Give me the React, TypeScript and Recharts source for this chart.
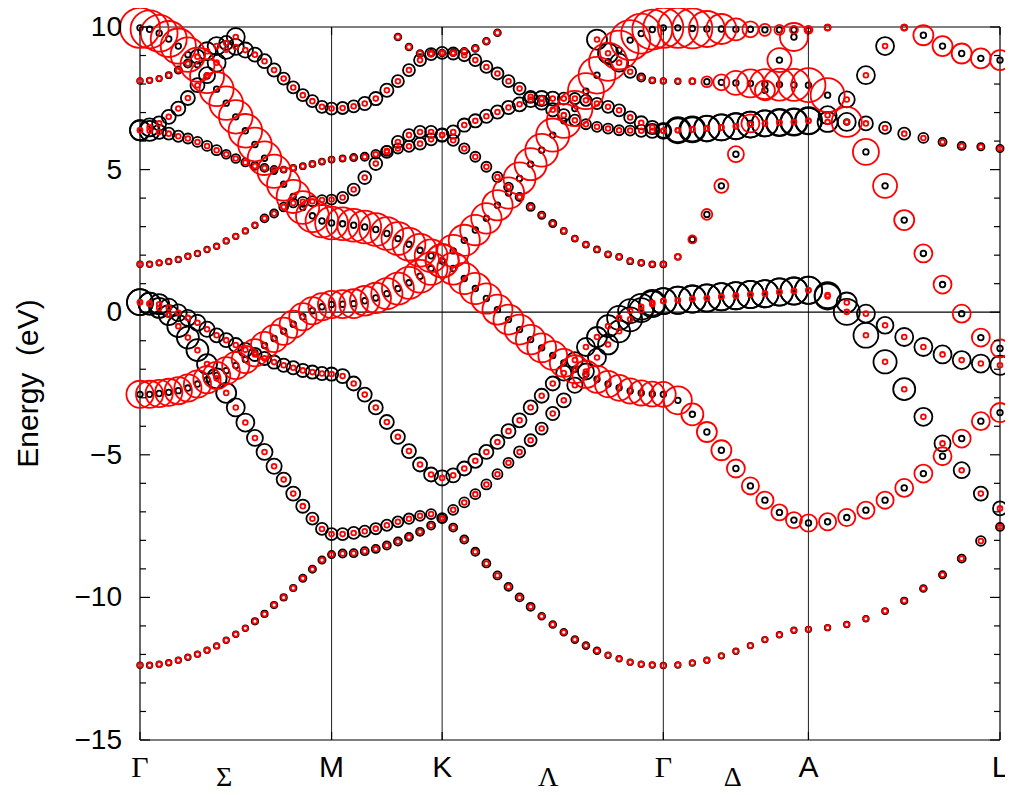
import { ScatterChart, Scatter, XAxis, YAxis, ReferenceLine } from "recharts";

// high-symmetry points along the k-path (path length, Γ–K = 1)
const symPoints = [
  { k: 0, label: "Γ" },
  { k: 0.866, label: "M" },
  { k: 1.366, label: "K" },
  { k: 2.366, label: "Γ" },
  { k: 3.022, label: "A" },
  { k: 3.888, label: "L" },
];
const lineLabels = [
  { k: 0.38, label: "Σ" },
  { k: 1.845, label: "Λ" },
  { k: 2.68, label: "Δ" },
];
// k intervals in each segment Γ-M, M-K, K-Γ, Γ-A, A-L
const segSteps = [20, 10, 20, 10, 10];
const energyTicks = [-15, -14, -13, -12, -11, -10, -9, -8, -7, -6, -5, -4, -3, -2, -1, 0, 1, 2, 3, 4, 5, 6, 7, 8, 9, 10];

// band energies (eV) and projected weights (black / red)
const s1Energy = [
  -12.38, -12.38, -12.34, -12.29, -12.2, -12.1, -11.99, -11.85, -11.7, -11.5, -11.29, -11.08, -10.84, -10.58, -10.27, -10.0, -9.67, -9.33, -9.01, -8.69, -8.5,
  -8.46, -8.45, -8.38, -8.3, -8.18, -8.04, -7.88, -7.7, -7.48, -7.24,
  -7.55, -7.97, -8.4, -8.81, -9.23, -9.63, -10.0, -10.33, -10.66, -10.95, -11.22, -11.48, -11.69, -11.87, -12.03, -12.15, -12.27, -12.34, -12.37, -12.39,
  -12.37, -12.3, -12.2, -12.05, -11.89, -11.69, -11.48, -11.31, -11.15, -11.12,
  -11.06, -10.95, -10.75, -10.48, -10.12, -9.69, -9.21, -8.64, -8.02, -7.53,
];
const s1Black = [
  0.14, 0.14, 0.14, 0.14, 0.14, 0.14, 0.14, 0.14, 0.14, 0.14, 0.14, 0.14, 0.16, 0.16, 0.16, 0.16, 0.16, 0.18, 0.18, 0.18, 0.18,
  0.2, 0.2, 0.2, 0.2, 0.2, 0.2, 0.2, 0.2, 0.2, 0.2,
  0.2, 0.2, 0.2, 0.2, 0.2, 0.2, 0.2, 0.2, 0.17, 0.17, 0.17, 0.17, 0.17, 0.17, 0.14, 0.14, 0.14, 0.14, 0.14, 0.14,
  0.14, 0.14, 0.14, 0.14, 0.14, 0.14, 0.14, 0.14, 0.14, 0.14,
  0.14, 0.14, 0.14, 0.15, 0.16, 0.17, 0.18, 0.2, 0.24, 0.2,
];
const s1Red = [
  0.12, 0.12, 0.12, 0.12, 0.12, 0.12, 0.12, 0.12, 0.12, 0.12, 0.12, 0.12, 0.12, 0.12, 0.12, 0.12, 0.12, 0.12, 0.12, 0.12, 0.12,
  0.12, 0.12, 0.12, 0.12, 0.12, 0.12, 0.12, 0.12, 0.12, 0.12,
  0.12, 0.12, 0.12, 0.12, 0.12, 0.12, 0.12, 0.12, 0.12, 0.12, 0.12, 0.12, 0.12, 0.12, 0.12, 0.12, 0.12, 0.12, 0.12, 0.12,
  0.12, 0.12, 0.12, 0.12, 0.12, 0.12, 0.12, 0.12, 0.12, 0.12,
  0.12, 0.12, 0.12, 0.12, 0.12, 0.12, 0.12, 0.12, 0.12, 0.12,
];

const s2Energy = [
  0.35, 0.3, 0.15, -0.1, -0.49, -0.89, -1.33, -1.82, -2.32, -2.83, -3.34, -3.87, -4.41, -4.9, -5.4, -5.87, -6.36, -6.8, -7.24, -7.6, -7.78,
  -7.78, -7.74, -7.68, -7.59, -7.47, -7.35, -7.24, -7.14, -7.08, -7.22,
  -6.93, -6.67, -6.38, -6.04, -5.68, -5.28, -4.9, -4.49, -4.08, -3.55, -3.09, -2.56, -2.08, -1.59, -1.13, -0.67, -0.25, 0.07, 0.28, 0.39,
  0.42, 0.46, 0.5, 0.54, 0.58, 0.62, 0.65, 0.71, 0.74, 0.77,
  0.55, 0.01, -0.81, -1.74, -2.7, -3.67, -4.6, -5.54, -6.36, -6.88,
];
const s2Black = [
  0.65, 0.55, 0.5, 0.5, 0.55, 0.55, 0.55, 0.5, 0.5, 0.5, 0.45, 0.45, 0.4, 0.4, 0.38, 0.35, 0.35, 0.33, 0.3, 0.3, 0.3,
  0.3, 0.3, 0.28, 0.28, 0.28, 0.27, 0.26, 0.25, 0.25, 0.25,
  0.25, 0.25, 0.25, 0.25, 0.25, 0.25, 0.28, 0.3, 0.3, 0.33, 0.35, 0.38, 0.4, 0.45, 0.5, 0.55, 0.6, 0.6, 0.65, 0.65,
  0.68, 0.68, 0.68, 0.68, 0.68, 0.68, 0.68, 0.68, 0.68, 0.68,
  0.65, 0.65, 0.62, 0.58, 0.55, 0.45, 0.4, 0.4, 0.35, 0.35,
];
const s2Red = s1Red;

const s3Energy = [
  0.35, 0.3, 0.28, 0.16, -0.02, -0.2, -0.37, -0.6, -0.81, -0.98, -1.15, -1.32, -1.48, -1.62, -1.75, -1.86, -1.95, -2.04, -2.1, -2.15, -2.17,
  -2.24, -2.5, -2.89, -3.34, -3.85, -4.37, -4.87, -5.34, -5.69, -5.81,
  -5.72, -5.48, -5.21, -4.9, -4.55, -4.17, -3.79, -3.34, -2.93, -2.5, -2.13, -1.68, -1.22, -0.87, -0.49, -0.2, 0.04, 0.19, 0.33, 0.39,
  0.42, 0.46, 0.5, 0.54, 0.58, 0.62, 0.65, 0.71, 0.74, 0.77,
  0.6, 0.34, -0.05, -0.46, -0.87, -1.22, -1.48, -1.68, -1.8, -1.86,
];
const s3Black = [
  0.65, 0.55, 0.5, 0.45, 0.42, 0.4, 0.4, 0.38, 0.35, 0.35, 0.35, 0.35, 0.33, 0.33, 0.33, 0.33, 0.33, 0.33, 0.33, 0.33, 0.33,
  0.35, 0.35, 0.35, 0.35, 0.35, 0.35, 0.35, 0.35, 0.35, 0.38,
  0.35, 0.35, 0.35, 0.35, 0.35, 0.35, 0.35, 0.35, 0.35, 0.35, 0.38, 0.4, 0.45, 0.5, 0.55, 0.6, 0.6, 0.65, 0.65, 0.65,
  0.68, 0.68, 0.68, 0.68, 0.68, 0.68, 0.68, 0.68, 0.68, 0.68,
  0.65, 0.5, 0.45, 0.42, 0.45, 0.45, 0.45, 0.45, 0.45, 0.48,
];
const s3Red = s1Red;

const piCEnergy = [
  -2.88, -2.88, -2.85, -2.81, -2.75, -2.66, -2.52, -2.37, -2.22, -2.05, -1.87, -1.66, -1.42, -1.17, -0.92, -0.67, -0.42, -0.16, 0.05, 0.19, 0.27,
  0.28, 0.3, 0.4, 0.5, 0.65, 0.83, 1.03, 1.26, 1.53, 1.8,
  2.15, 2.52, 2.88, 3.29, 3.75, 4.18, 4.69, 5.19, 5.68, 6.21, 6.71, 7.14, 7.75, 8.31, 8.78, 9.19, 9.54, 9.77, 9.91, 9.97,
  9.97, 9.95, 9.93, 9.93, 9.92, 9.92, 9.9, 9.9, 9.9, 9.9,
  9.98,
];
const piCRed = [
  0.68, 0.68, 0.68, 0.68, 0.68, 0.68, 0.68, 0.68, 0.68, 0.68, 0.68, 0.68, 0.68, 0.68, 0.68, 0.68, 0.68, 0.68, 0.68, 0.68, 0.68,
  0.7, 0.72, 0.74, 0.76, 0.78, 0.8, 0.8, 0.82, 0.82, 0.83,
  0.8, 0.78, 0.76, 0.76, 0.76, 0.78, 0.8, 0.8, 0.82, 0.83, 0.85, 0.88, 0.9, 0.92, 0.95, 0.97, 1, 1, 1, 1,
  1, 1, 0.9, 0.75, 0.55, 0.4, 0.3, 0.25, 0.2, 0.2,
  0.15,
];
const piCBlack = piCRed.map(() => 0.12);

const piDEnergy = [
  9.97, 9.92, 9.78, 9.58, 9.33, 9.03, 8.68, 8.28, 7.82, 7.33, 6.85, 6.36, 5.88, 5.4, 4.94, 4.49, 4.06, 3.67, 3.38, 3.2, 3.13,
  3.1, 3.05, 2.99, 2.9, 2.76, 2.58, 2.38, 2.17, 1.98, 1.8,
  1.53, 1.18, 0.83, 0.48, 0.09, -0.26, -0.61, -0.96, -1.25, -1.52, -1.78, -2.0, -2.18, -2.35, -2.52, -2.65, -2.76, -2.83, -2.87, -2.88,
  -3.09, -3.58, -4.2, -4.84, -5.48, -6.09, -6.59, -7.02, -7.29, -7.39,
  -7.35, -7.2, -6.94, -6.59, -6.16, -5.66, -5.05, -4.43, -3.82, -3.52,
];
const piDRed = [
  1, 0.95, 0.92, 0.9, 0.88, 0.86, 0.85, 0.85, 0.85, 0.84, 0.84, 0.84, 0.84, 0.84, 0.83, 0.83, 0.83, 0.82, 0.82, 0.82, 0.82,
  0.82, 0.82, 0.82, 0.82, 0.82, 0.82, 0.82, 0.82, 0.82, 0.83,
  0.8, 0.78, 0.78, 0.76, 0.75, 0.75, 0.75, 0.74, 0.72, 0.72, 0.7, 0.7, 0.68, 0.68, 0.66, 0.65, 0.63, 0.63, 0.62, 0.62,
  0.7, 0.55, 0.5, 0.5, 0.45, 0.43, 0.43, 0.4, 0.4, 0.43,
  0.43, 0.43, 0.43, 0.43, 0.45, 0.45, 0.45, 0.45, 0.45, 0.48,
];
const piDBlack = s1Red;

const c2Energy = [9.98, 9.71, 9.33, 9.07, 8.9, 8.84];
const c2Black = [0.14, 0.14, 0.14, 0.14, 0.14, 0.14];
const c2Red = [0.15, 0.5, 0.5, 0.5, 0.5, 0.5];

const b5Energy = [
  1.68, 1.68, 1.73, 1.78, 1.85, 1.96, 2.06, 2.2, 2.31, 2.5, 2.66, 2.85, 3.05, 3.29, 3.46, 3.69, 3.83, 3.87, 3.89, 3.93, 3.95,
  4.02, 4.3, 4.72, 5.21, 5.62, 5.97, 6.21, 6.32, 6.32, 6.21,
  6.03, 5.74, 5.45, 5.1, 4.74, 4.39, 4.04, 3.69, 3.4, 3.11, 2.85, 2.58, 2.37, 2.2, 2.03, 1.94, 1.79, 1.73, 1.68, 1.68,
  1.94, 2.55, 3.43, 4.43, 5.54, 6.62, 7.78, 8.84, 9.65, 9.89,
];
const b5Black = [
  0.14, 0.14, 0.14, 0.14, 0.14, 0.14, 0.14, 0.14, 0.14, 0.14, 0.14, 0.14, 0.14, 0.2, 0.2, 0.22, 0.22, 0.25, 0.25, 0.25, 0.25,
  0.28, 0.3, 0.32, 0.32, 0.3, 0.3, 0.3, 0.3, 0.3, 0.32,
  0.28, 0.26, 0.25, 0.25, 0.25, 0.22, 0.2, 0.2, 0.18, 0.18, 0.15, 0.15, 0.15, 0.15, 0.15, 0.15, 0.15, 0.15, 0.15, 0.15,
  0.14, 0.14, 0.14, 0.14, 0.14, 0.14, 0.14, 0.14, 0.14, 0.14,
];
const b5Red = [
  0.12, 0.12, 0.12, 0.12, 0.12, 0.12, 0.12, 0.12, 0.12, 0.12, 0.12, 0.12, 0.12, 0.12, 0.12, 0.12, 0.12, 0.12, 0.12, 0.12, 0.12,
  0.12, 0.12, 0.12, 0.12, 0.12, 0.12, 0.12, 0.12, 0.12, 0.12,
  0.12, 0.12, 0.12, 0.12, 0.12, 0.12, 0.12, 0.12, 0.12, 0.12, 0.12, 0.12, 0.12, 0.12, 0.12, 0.12, 0.12, 0.12, 0.12, 0.12,
  0.15, 0.2, 0.27, 0.35, 0.4, 0.45, 0.5, 0.6, 0.7, 0.15,
];

const u2Energy = [
  6.38, 6.36, 6.32, 6.26, 6.17, 6.09, 5.97, 5.83, 5.68, 5.54, 5.39, 5.25, 5.13, 5.06, 5.0, 5.0, 5.06, 5.12, 5.2, 5.28, 5.35,
  5.39, 5.42, 5.45, 5.54, 5.66, 5.74, 5.82, 5.91, 6.06, 6.21,
  6.32, 6.56, 6.71, 6.87, 7.02, 7.18, 7.29, 7.46, 7.49, 7.49, 7.49, 7.49, 7.43, 7.32, 7.2, 7.08, 6.83, 6.64, 6.48, 6.36,
  6.38, 6.41, 6.44, 6.48, 6.52, 6.58, 6.62, 6.65, 6.67, 6.71,
  6.91, 7.46, 8.31, 9.33,
];
const u2Black = [
  0.5, 0.5, 0.35, 0.3, 0.28, 0.25, 0.25, 0.25, 0.25, 0.22, 0.22, 0.2, 0.2, 0.2, 0.18, 0.15, 0.15, 0.15, 0.15, 0.15, 0.15,
  0.15, 0.18, 0.2, 0.22, 0.25, 0.25, 0.28, 0.3, 0.3, 0.33,
  0.33, 0.33, 0.33, 0.33, 0.33, 0.33, 0.35, 0.38, 0.38, 0.35, 0.3, 0.28, 0.28, 0.28, 0.3, 0.3, 0.3, 0.33, 0.33, 0.35,
  0.6, 0.6, 0.63, 0.65, 0.65, 0.65, 0.65, 0.68, 0.68, 0.68,
  0.45, 0.4, 0.45, 0.45,
];
const u2Red = u2Black.map(() => 0.12);

const u1Energy = [6.38, 6.48, 6.62, 6.85, 7.14, 7.51, 7.96, 8.31, 8.75, 9.2, 9.65];
const u1Black = [0.5, 0.45, 0.35, 0.35, 0.35, 0.35, 0.35, 0.4, 0.45, 0.45, 0.45];
const u1Red = [0.12, 0.12, 0.12, 0.12, 0.12, 0.12, 0.12, 0.12, 0.12, 0.12, 0.12];

const e9Energy = [9.65, 9.3, 9.07, 9.08, 9.09, 9.1, 9.15, 9.25, 9.5, 9.8];
const e9Black = [0.17, 0.17, 0.17, 0.17, 0.17, 0.17, 0.17, 0.17, 0.17, 0.17];
const e9Red = [0.13, 0.13, 0.13, 0.13, 0.13, 0.13, 0.13, 0.13, 0.13, 0.13];

const e8Energy = [
  8.11, 8.13, 8.19, 8.31, 8.49, 8.72, 8.96, 9.15, 9.33, 9.44, 9.3, 9.19, 9.03, 8.8, 8.49, 8.19, 7.88, 7.61, 7.4, 7.2, 7.14,
  7.16, 7.22, 7.32, 7.49, 7.78, 8.1, 8.49, 8.84, 9.05, 9.09,
  9.07, 9.01, 8.84, 8.6, 8.37, 8.1, 7.84, 7.55, 7.35, 7.1, 6.91, 6.73, 6.59, 6.5, 6.44, 6.38, 6.37, 6.36, 6.36, 6.36,
  6.38, 6.41, 6.44, 6.48, 6.52, 6.58, 6.62, 6.65, 6.67, 6.71,
  6.67, 6.67, 6.62, 6.46, 6.26, 6.11, 5.97, 5.83, 5.8, 5.74,
];
const e8Black = [
  0.14, 0.14, 0.14, 0.15, 0.18, 0.2, 0.35, 0.45, 0.45, 0.35, 0.4, 0.38, 0.35, 0.35, 0.33, 0.3, 0.3, 0.3, 0.3, 0.3, 0.3,
  0.3, 0.3, 0.33, 0.33, 0.33, 0.3, 0.3, 0.3, 0.3, 0.3,
  0.3, 0.3, 0.3, 0.3, 0.3, 0.3, 0.3, 0.3, 0.35, 0.33, 0.3, 0.28, 0.25, 0.25, 0.25, 0.25, 0.25, 0.3, 0.35, 0.4,
  0.65, 0.65, 0.65, 0.65, 0.65, 0.65, 0.65, 0.65, 0.65, 0.65,
  0.5, 0.45, 0.35, 0.3, 0.3, 0.25, 0.2, 0.2, 0.18, 0.18,
];
const e8Red = s1Red;

const e10Energy = [
  9.56, 9.08, 8.75, 8.43, 8.23, 8.13, 8.11,
  8.1, 8.1, 8.08, 8.06, 8.04, 8.02, 8.0, 7.98, 7.97, 7.96,
  7.61, 6.67, 5.62, 4.43, 3.23, 2.06, 0.97, -0.05, -0.89, -1.27,
];
const e10Black = [
  0.5, 0.5, 0.45, 0.3, 0.2, 0.15, 0.14,
  0.14, 0.14, 0.14, 0.14, 0.14, 0.14, 0.14, 0.14, 0.14, 0.14,
  0.14, 0.14, 0.14, 0.14, 0.14, 0.14, 0.14, 0.14, 0.14, 0.14,
];
const e10Red = [
  0.12, 0.12, 0.12, 0.12, 0.12, 0.12, 0.12,
  0.12, 0.15, 0.27, 0.4, 0.6, 0.7, 0.75, 0.8, 0.8, 0.85,
  0.85, 0.75, 0.65, 0.6, 0.5, 0.45, 0.45, 0.45, 0.45, 0.45,
];

// first k index of each band
const bands = [
  { from: 0, e: s1Energy, black: s1Black, red: s1Red },
  { from: 0, e: s2Energy, black: s2Black, red: s2Red },
  { from: 0, e: s3Energy, black: s3Black, red: s3Red },
  { from: 0, e: piCEnergy, black: piCBlack, red: piCRed },
  { from: 0, e: piDEnergy, black: piDBlack, red: piDRed },
  { from: 65, e: c2Energy, black: c2Black, red: c2Red },
  { from: 0, e: b5Energy, black: b5Black, red: b5Red },
  { from: 0, e: u2Energy, black: u2Black, red: u2Red },
  { from: 0, e: u1Energy, black: u1Black, red: u1Red },
  { from: 26, e: e9Energy, black: e9Black, red: e9Red },
  { from: 0, e: e8Energy, black: e8Black, red: e8Red },
  { from: 44, e: e10Energy, black: e10Black, red: e10Red },
];

const kGrid: number[] = [0];
segSteps.forEach((n, s) => {
  const a = symPoints[s].k;
  const b = symPoints[s + 1].k;
  for (let j = 1; j <= n; j++) kGrid.push(a + ((b - a) * j) / n);
});

const blackPoints: { k: number; e: number; w: number }[] = [];
const redPoints: { k: number; e: number; w: number }[] = [];
bands.forEach((band) => {
  band.e.forEach((e, j) => {
    const k = kGrid[band.from + j];
    blackPoints.push({ k, e, w: band.black[j] });
    redPoints.push({ k, e, w: band.red[j] });
  });
});

const W = 1005;
const H = 787;
const PLOT = { left: 132, top: 19, right: 992, bottom: 732 };
const R_MAX = 20;
const SANS = "'Liberation Sans', Arial, Helvetica, sans-serif";
const SERIF = "'Liberation Serif', 'Times New Roman', serif";

const ring = (color: string, minR: number) => (props: any) => {
  const { cx, cy, payload } = props;
  if (cx == null || cy == null) return <g />;
  const r = Math.max(minR, payload.w * R_MAX);
  return <circle cx={cx} cy={cy} r={r} fill="none" stroke={color} strokeWidth={1.8} />;
};

const axisLabels = [...symPoints, ...lineLabels];

const KTick = (props: any) => {
  const { x, payload } = props;
  const isSym = symPoints.some((p) => Math.abs(p.k - payload.value) < 1e-6);
  const item = axisLabels.find((p) => Math.abs(p.k - payload.value) < 1e-6);
  if (!item) return <g />;
  const greek = /[\u0370-\u03ff]/.test(item.label);
  return (
    <g>
      {isSym && (
        <>
          <line x1={x} x2={x} y1={PLOT.bottom} y2={PLOT.bottom - 8} stroke="#000" strokeWidth={1.2} />
          <line x1={x} x2={x} y1={PLOT.top} y2={PLOT.top + 8} stroke="#000" strokeWidth={1.2} />
        </>
      )}
      <text
        x={x}
        y={isSym ? PLOT.bottom + 37 : PLOT.bottom + 46}
        textAnchor="middle"
        fontFamily={greek ? SERIF : SANS}
        fontSize={isSym ? 30 : 28}
        fill="#000"
      >
        {item.label}
      </text>
    </g>
  );
};

const ETick = (props: any) => {
  const { y, payload } = props;
  const v = payload.value as number;
  const major = v % 5 === 0;
  const len = major ? 10 : 6;
  return (
    <g>
      <line x1={PLOT.left} x2={PLOT.left + len} y1={y} y2={y} stroke="#000" strokeWidth={1.2} />
      <line x1={PLOT.right - len} x2={PLOT.right} y1={y} y2={y} stroke="#000" strokeWidth={1.2} />
      {major && (
        <text x={PLOT.left - 18} y={y} dy={9} textAnchor="end" fontFamily={SANS} fontSize={28} fill="#000">
          {v < 0 ? `\u2212${-v}` : `${v}`}
        </text>
      )}
    </g>
  );
};

const BandChart = () => {
  return (
    <div style={{ position: "relative", width: W, height: H }}>
      <ScatterChart width={W} height={H} margin={{ top: 19, right: 13, bottom: 10, left: 32 }}>
        <XAxis
          type="number"
          dataKey="k"
          domain={[0, 3.888]}
          ticks={axisLabels.map((l) => l.k)}
          interval={0}
          tick={<KTick />}
          tickLine={false}
          axisLine={false}
          height={45}
        />
        <YAxis
          type="number"
          dataKey="e"
          domain={[-15, 10]}
          ticks={energyTicks}
          interval={0}
          tick={<ETick />}
          tickLine={false}
          axisLine={false}
          width={100}
        />
        {symPoints.slice(1, 5).map((p, i) => (
          <ReferenceLine key={`v${i}`} x={p.k} stroke="#333" strokeWidth={1.1} />
        ))}
        <ReferenceLine y={0} stroke="#000" strokeWidth={1.2} />
        <ReferenceLine y={10} stroke="#000" strokeWidth={1.2} />
        <ReferenceLine y={-15} stroke="#000" strokeWidth={1.2} />
        <ReferenceLine x={0} stroke="#000" strokeWidth={1.2} />
        <ReferenceLine x={3.888} stroke="#000" strokeWidth={1.2} />
        <Scatter data={blackPoints} shape={ring("#000000", 2.8)} isAnimationActive={false} />
        <Scatter data={redPoints} shape={ring("#ff0000", 1.8)} isAnimationActive={false} />
      </ScatterChart>
      <svg width={W} height={H} style={{ position: "absolute", left: 0, top: 0, pointerEvents: "none" }}>
        <text
          x={30}
          y={(PLOT.top + PLOT.bottom) / 2}
          transform={`rotate(-90, 30, ${(PLOT.top + PLOT.bottom) / 2})`}
          textAnchor="middle"
          fontFamily={SANS}
          fontSize={30}
          fill="#000"
          style={{ whiteSpace: "pre" }}
        >
          {"Energy  (eV)"}
        </text>
      </svg>
    </div>
  );
};

export default function App() {
  return <BandChart />;
}
